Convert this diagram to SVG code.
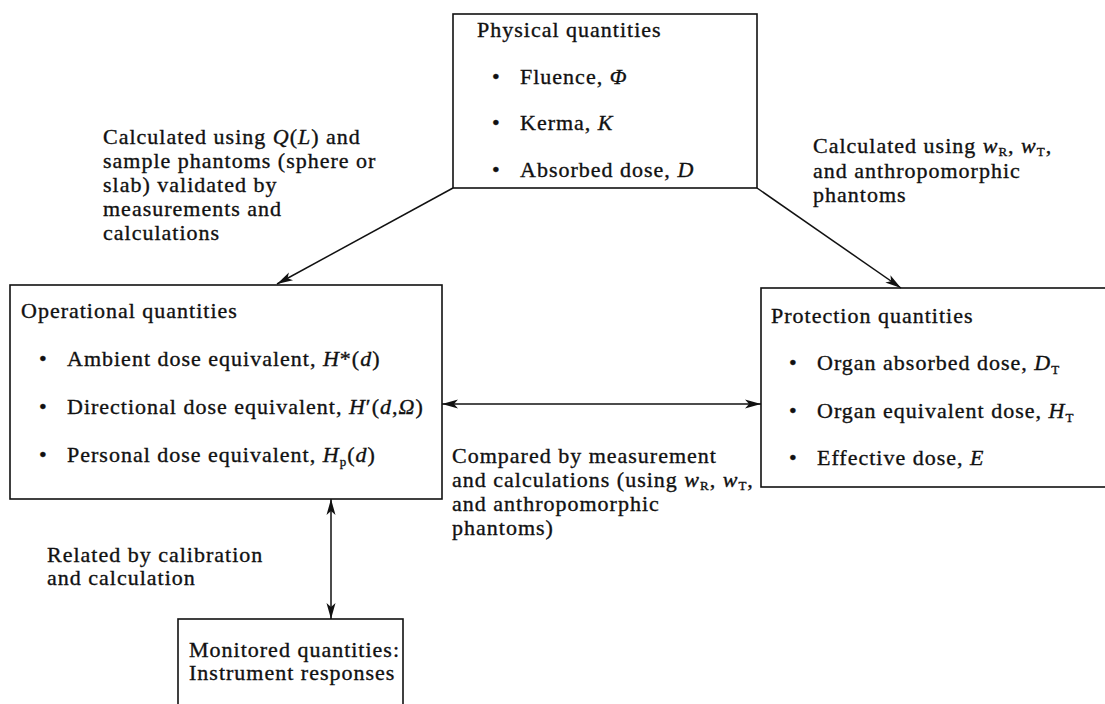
<svg xmlns="http://www.w3.org/2000/svg" width="1105" height="704" viewBox="0 0 1105 704">
<style>
.t{font-family:"Liberation Serif","Times New Roman",serif;font-size:22px;letter-spacing:1px;fill:#111;stroke:#111;stroke-width:0.35}
.i{font-style:italic}
.s{font-size:13px}
.box{fill:#fff;stroke:#111;stroke-width:1.6}
.c{stroke:#111;stroke-width:1.5;fill:none}
</style>
<defs>
<marker id="ah" viewBox="0 0 16 10" refX="16" refY="5" markerWidth="16" markerHeight="10" markerUnits="userSpaceOnUse" orient="auto-start-reverse">
<path d="M0,0.5 L16,5 L0,9.5 L4,5 z" fill="#111"/>
</marker>
</defs>
<rect width="1105" height="704" fill="#fff"/>

<g id="physical">
<rect class="box" x="453" y="14" width="304" height="174"/>
<text class="t" x="477" y="37">Physical quantities</text>
<text class="t" x="492" y="84">•</text><text class="t" x="520" y="84">Fluence, <tspan class="i">Φ</tspan></text>
<text class="t" x="492" y="130">•</text><text class="t" x="520" y="130">Kerma, <tspan class="i">K</tspan></text>
<text class="t" x="492" y="177">•</text><text class="t" x="520" y="177">Absorbed dose, <tspan class="i">D</tspan></text>
</g>

<g id="operational">
<rect class="box" x="10" y="285" width="432" height="214"/>
<text class="t" x="21" y="318">Operational quantities</text>
<text class="t" x="39" y="366">•</text><text class="t" x="67" y="366">Ambient dose equivalent, <tspan class="i">H</tspan>*(<tspan class="i">d</tspan>)</text>
<text class="t" x="39" y="414">•</text><text class="t" x="67" y="414">Directional dose equivalent, <tspan class="i">H</tspan>′(<tspan class="i">d</tspan>,<tspan class="i">Ω</tspan>)</text>
<text class="t" x="39" y="462">•</text><text class="t" x="67" y="462">Personal dose equivalent, <tspan class="i">H</tspan><tspan class="s" dy="4">p</tspan><tspan dy="-4">(</tspan><tspan class="i">d</tspan>)</text>
</g>

<g id="protection">
<rect class="box" x="761" y="288" width="360" height="199"/>
<text class="t" x="771" y="323">Protection quantities</text>
<text class="t" x="789" y="370">•</text><text class="t" x="817" y="370">Organ absorbed dose, <tspan class="i">D</tspan><tspan class="s" dy="4">T</tspan></text>
<text class="t" x="789" y="418">•</text><text class="t" x="817" y="418">Organ equivalent dose, <tspan class="i">H</tspan><tspan class="s" dy="4">T</tspan></text>
<text class="t" x="789" y="465">•</text><text class="t" x="817" y="465">Effective dose, <tspan class="i">E</tspan></text>
</g>

<g id="monitored">
<rect class="box" x="178" y="619" width="225" height="110"/>
<text class="t" x="189" y="657">Monitored quantities:</text>
<text class="t" x="189" y="680">Instrument responses</text>
</g>

<g id="connectors">
<line class="c" x1="453" y1="188" x2="277" y2="284" marker-end="url(#ah)"/>
<line class="c" x1="757" y1="188" x2="901" y2="288" marker-end="url(#ah)"/>
<line class="c" x1="442" y1="404" x2="761" y2="404" marker-start="url(#ah)" marker-end="url(#ah)"/>
<line class="c" x1="331" y1="499" x2="331" y2="619" marker-start="url(#ah)" marker-end="url(#ah)"/>
</g>

<g id="labels">
<text class="t" x="103" y="144">Calculated using <tspan class="i">Q</tspan>(<tspan class="i">L</tspan>) and</text>
<text class="t" x="103" y="168">sample phantoms (sphere or</text>
<text class="t" x="103" y="192">slab) validated by</text>
<text class="t" x="103" y="216">measurements and</text>
<text class="t" x="103" y="240">calculations</text>

<text class="t" x="813" y="153">Calculated using <tspan class="i">w</tspan><tspan class="s" dy="3">R</tspan><tspan dy="-3">, </tspan><tspan class="i">w</tspan><tspan class="s" dy="3">T</tspan><tspan dy="-3">,</tspan></text>
<text class="t" x="813" y="178">and anthropomorphic</text>
<text class="t" x="813" y="202">phantoms</text>

<text class="t" x="452" y="463">Compared by measurement</text>
<text class="t" x="452" y="487">and calculations (using <tspan class="i">w</tspan><tspan class="s" dy="3">R</tspan><tspan dy="-3">, </tspan><tspan class="i">w</tspan><tspan class="s" dy="3">T</tspan><tspan dy="-3">,</tspan></text>
<text class="t" x="452" y="511">and anthropomorphic</text>
<text class="t" x="452" y="535">phantoms)</text>

<text class="t" x="47" y="562">Related by calibration</text>
<text class="t" x="47" y="585">and calculation</text>
</g>
</svg>
